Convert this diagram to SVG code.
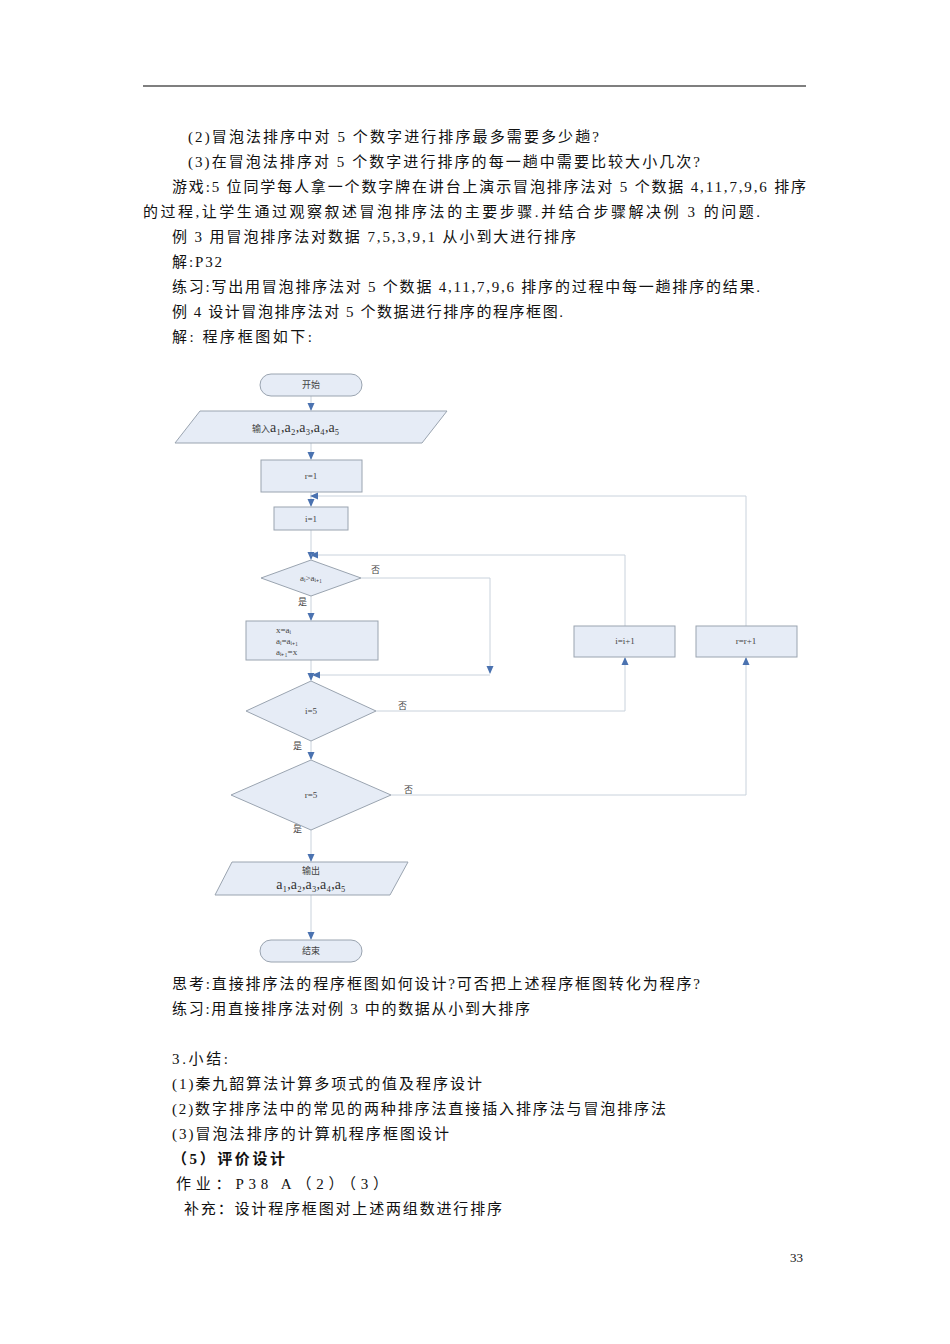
<svg xmlns="http://www.w3.org/2000/svg" width="950" height="1344" viewBox="0 0 950 1344">
<style>
.t{font-family:"Liberation Serif","Noto Sans CJK SC",serif;font-size:15px;fill:#111}
.s{font-family:"Liberation Serif","Noto Sans CJK SC",serif;font-size:9px;fill:#444}
.m{font-family:"Liberation Serif","Noto Sans CJK SC",serif;font-size:14px;fill:#333}
.n{fill:#e6ecf6;stroke:#9aa4b0;stroke-width:1}
.c{fill:none;stroke:#c9d2dc;stroke-width:1}
</style>
<defs><marker id="a" markerWidth="8" markerHeight="8" refX="7" refY="4" orient="auto" markerUnits="userSpaceOnUse"><path d="M0,0.5 L8,4 L0,7.5Z" fill="#4a72b0"/></marker></defs>
<rect width="950" height="1344" fill="#fff"/>
<line x1="143" y1="86" x2="806" y2="86" stroke="#000" stroke-width="1.2"/>
<g class="t" lengthAdjust="spacing">
<text x="188" y="142" textLength="411">(2)冒泡法排序中对 5 个数字进行排序最多需要多少趟?</text>
<text x="188" y="167" textLength="512">(3)在冒泡法排序对 5 个数字进行排序的每一趟中需要比较大小几次?</text>
<text x="172" y="192" textLength="634">游戏:5 位同学每人拿一个数字牌在讲台上演示冒泡排序法对 5 个数据 4,11,7,9,6 排序</text>
<text x="143" y="217" textLength="617">的过程,让学生通过观察叙述冒泡排序法的主要步骤.并结合步骤解决例 3 的问题.</text>
<text x="172" y="242" textLength="404">例 3  用冒泡排序法对数据 7,5,3,9,1 从小到大进行排序</text>
<text x="172" y="267" textLength="50">解:P32</text>
<text x="172" y="292" textLength="588">练习:写出用冒泡排序法对 5 个数据 4,11,7,9,6 排序的过程中每一趟排序的结果.</text>
<text x="172" y="317" textLength="391">例 4  设计冒泡排序法对 5 个数据进行排序的程序框图.</text>
<text x="172" y="342" textLength="140">解: 程序框图如下:</text>
<text x="172" y="989" textLength="528">思考:直接排序法的程序框图如何设计?可否把上述程序框图转化为程序?</text>
<text x="172" y="1014" textLength="358">练习:用直接排序法对例 3 中的数据从小到大排序</text>
<text x="172" y="1064" textLength="56">3.小结:</text>
<text x="172" y="1089" textLength="310">(1)秦九韶算法计算多项式的值及程序设计</text>
<text x="172" y="1114" textLength="494">(2)数字排序法中的常见的两种排序法直接插入排序法与冒泡排序法</text>
<text x="172" y="1139" textLength="277">(3)冒泡法排序的计算机程序框图设计</text>
<text x="172" y="1164" font-weight="bold" textLength="113">（5）评价设计</text>
<text x="176" y="1189" textLength="212">作业：P38 A（2）（3）</text>
<text x="184" y="1214" textLength="318">补充：设计程序框图对上述两组数进行排序</text>
<text x="790" y="1262" font-size="13">33</text>
</g>
<g id="connectors">
<line class="c" x1="311" y1="396" x2="311" y2="410" marker-end="url(#a)"/>
<line class="c" x1="311" y1="443" x2="311" y2="459" marker-end="url(#a)"/>
<line class="c" x1="311" y1="492" x2="311" y2="506" marker-end="url(#a)"/>
<line class="c" x1="311" y1="530" x2="311" y2="559" marker-end="url(#a)"/>
<line class="c" x1="311" y1="596" x2="311" y2="620" marker-end="url(#a)"/>
<line class="c" x1="311" y1="660" x2="311" y2="680" marker-end="url(#a)"/>
<line class="c" x1="311" y1="741" x2="311" y2="759" marker-end="url(#a)"/>
<line class="c" x1="311" y1="830" x2="311" y2="861" marker-end="url(#a)"/>
<line class="c" x1="311" y1="895" x2="311" y2="939" marker-end="url(#a)"/>
<polyline class="c" points="361,578 490,578 490,673" marker-end="url(#a)"/>
<polyline class="c" points="490,675 313,675" marker-end="url(#a)"/>
<polyline class="c" points="376,711 625,711 625,658" marker-end="url(#a)"/>
<polyline class="c" points="391,795 746,795 746,658" marker-end="url(#a)"/>
<polyline class="c" points="625,626 625,555 311,555" marker-end="url(#a)"/>
<polyline class="c" points="746,626 746,496 311,496" marker-end="url(#a)"/>
<text class="s" x="371" y="573">否</text>
<text class="s" x="298" y="605">是</text>
<text class="s" x="398" y="709">否</text>
<text class="s" x="293" y="749">是</text>
<text class="s" x="404" y="793">否</text>
<text class="s" x="293" y="832">是</text>
</g>
<g id="start"><rect class="n" x="260" y="374" width="102" height="22" rx="11"/><text class="s" x="311" y="388" text-anchor="middle">开始</text></g>
<g id="input"><polygon class="n" points="200,411 447,411 422,443 175,443"/><text class="s" x="252" y="432">输入<tspan class="m">a₁,a₂,a₃,a₄,a₅</tspan></text></g>
<g id="r1"><rect class="n" x="261" y="460" width="101" height="32"/><text class="s" x="311" y="479" text-anchor="middle">r=1</text></g>
<g id="i1"><rect class="n" x="274" y="507" width="74" height="23"/><text class="s" x="311" y="522" text-anchor="middle">i=1</text></g>
<g id="cmp"><polygon class="n" points="311,560 361,578 311,596 261,578"/><text class="s" x="311" y="581" text-anchor="middle">aᵢ&gt;aᵢ₊₁</text></g>
<g id="swap"><rect class="n" x="246" y="621" width="132" height="39"/><text class="s" x="276" y="633">x=aᵢ</text><text class="s" x="276" y="644">aᵢ=aᵢ₊₁</text><text class="s" x="276" y="655">aᵢ₊₁=x</text></g>
<g id="inc-i"><rect class="n" x="574" y="626" width="101" height="31"/><text class="s" x="625" y="644" text-anchor="middle">i=i+1</text></g>
<g id="inc-r"><rect class="n" x="696" y="626" width="101" height="31"/><text class="s" x="746" y="644" text-anchor="middle">r=r+1</text></g>
<g id="i5"><polygon class="n" points="311,681 376,711 311,741 246,711"/><text class="s" x="311" y="714" text-anchor="middle">i=5</text></g>
<g id="r5"><polygon class="n" points="311,760 391,795 311,830 231,795"/><text class="s" x="311" y="798" text-anchor="middle">r=5</text></g>
<g id="output"><polygon class="n" points="232,862 408,862 390,895 215,895"/><text class="s" x="311" y="874" text-anchor="middle">输出</text><text class="m" x="311" y="889" text-anchor="middle">a₁,a₂,a₃,a₄,a₅</text></g>
<g id="end"><rect class="n" x="260" y="940" width="102" height="22" rx="11"/><text class="s" x="311" y="954" text-anchor="middle">结束</text></g>
</svg>
